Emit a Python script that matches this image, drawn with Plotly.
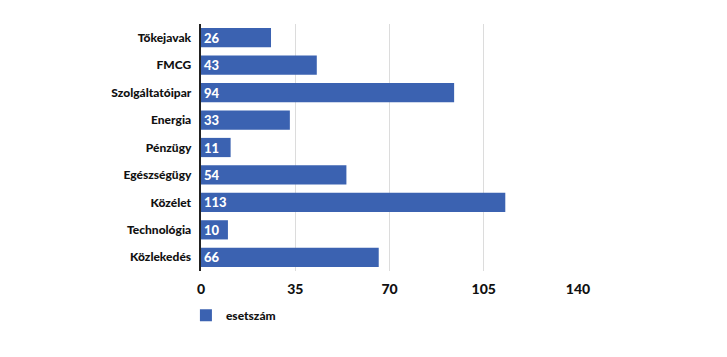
import plotly.graph_objects as go

categories = ["Tőkejavak", "FMCG", "Szolgáltatóipar", "Energia", "Pénzügy",
              "Egészségügy", "Közélet", "Technológia", "Közlekedés"]
values = [26, 43, 94, 33, 11, 54, 113, 10, 66]
x_ticks = [0, 35, 70, 105, 140]
series_name = "esetszám"

FONT = "Lato Black, Lato, sans-serif"
color = "#3b62b1"

fig = go.Figure(go.Bar(
    y=categories, x=values, orientation="h", name=series_name,
    marker=dict(color=color, line=dict(width=0)),
    text=[str(v) for v in values], textposition="inside", textangle=0,
    insidetextanchor="start",
    textfont=dict(color="white", size=13, family=FONT),
    showlegend=True,
))

fig.update_layout(
    width=727, height=357,
    margin=dict(l=201, r=149, t=24, b=86),
    paper_bgcolor="white", plot_bgcolor="white",
    bargap=0.3,
    font=dict(family=FONT, color="#1a1a1a", size=12),
    uniformtext=dict(minsize=13, mode="show"),
    xaxis=dict(range=[0, 140], tickvals=x_ticks, showgrid=True,
               gridcolor="#dcdcdc", gridwidth=1, zeroline=False,
               showline=False, ticks="", ticklabelstandoff=8,
               tickfont=dict(size=14, family=FONT, color="#111")),
    yaxis=dict(autorange="reversed", showline=True, linecolor="#222", linewidth=1.5,
               ticks="", ticksuffix="  ", tickfont=dict(size=12, family=FONT, color="#111")),
    legend=dict(orientation="h", x=-0.04, xanchor="left", y=-0.12, yanchor="top",
                font=dict(size=12, family=FONT, color="#111")),
)

fig.write_html("out.html")
